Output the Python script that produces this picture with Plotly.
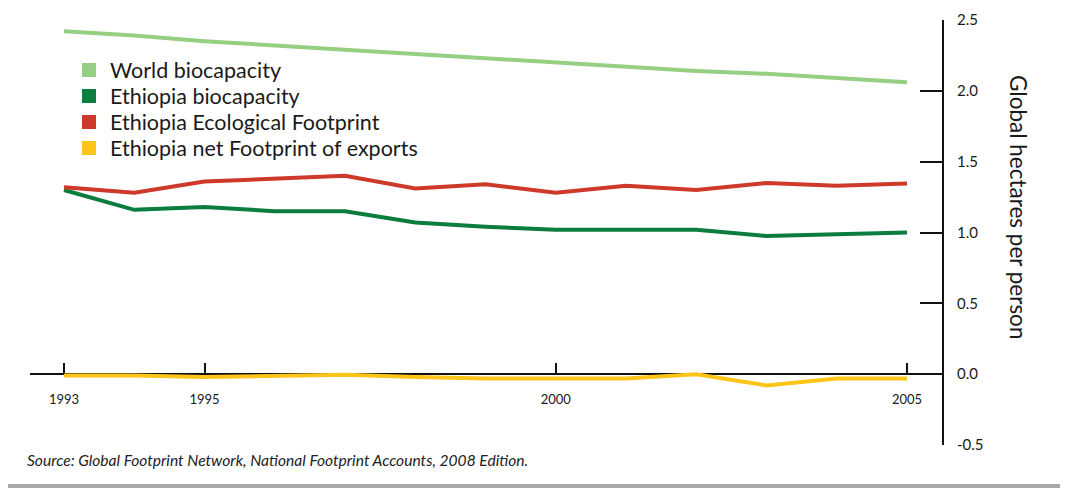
import plotly.graph_objects as go

years = list(range(1993, 2006))

world_biocapacity = [2.42, 2.39, 2.35, 2.32, 2.29, 2.26, 2.23, 2.20, 2.17, 2.14, 2.12, 2.09, 2.06]
ethiopia_biocapacity = [1.30, 1.16, 1.18, 1.15, 1.15, 1.07, 1.04, 1.02, 1.02, 1.02, 0.975, 0.99, 1.00]
ethiopia_footprint = [1.32, 1.28, 1.36, 1.38, 1.40, 1.31, 1.34, 1.28, 1.33, 1.30, 1.35, 1.33, 1.345]
ethiopia_exports = [-0.01, -0.01, -0.02, -0.01, -0.005, -0.02, -0.03, -0.03, -0.03, 0.0, -0.08, -0.03, -0.03]

x_tickvals = [1993, 1995, 2000, 2005]
y_tickvals = [-0.5, 0.0, 0.5, 1.0, 1.5, 2.0, 2.5]
y_ticktext = ["-0.5", "0.0", "0.5", "1.0", "1.5", "2.0", "2.5"]

series = [
    ("World biocapacity", world_biocapacity, "#95cf81"),
    ("Ethiopia biocapacity", ethiopia_biocapacity, "#0b7d3e"),
    ("Ethiopia Ecological Footprint", ethiopia_footprint, "#cd3a2a"),
    ("Ethiopia net Footprint of exports", ethiopia_exports, "#fdc41a"),
]

FONT = "Lato"
TEXT = "#1a1a1a"

# plot area is 912 x 425 px; helpers to place layout items in paper units
PW, PH = 912, 425
def px(sx):
    return (sx - 30) / PW
def py(sy):
    return (445 - sy) / PH

fig = go.Figure()

for name, vals, color in series:
    fig.add_trace(go.Scatter(
        x=years, y=vals, mode="lines", name=name,
        line=dict(color=color, width=4), showlegend=False,
    ))

fig.update_layout(
    # page body adds an 8px margin, so the figure is drawn 8px smaller
    width=1060, height=480,
    margin=dict(l=22, r=126, t=12, b=43),
    paper_bgcolor="white", plot_bgcolor="white",
    font=dict(family=FONT, color=TEXT),
    showlegend=False,
    xaxis=dict(
        range=[1992.516, 2005.498], anchor="free", position=1/6,
        tickvals=x_tickvals, ticks="inside", ticklen=10, tickwidth=2,
        tickcolor="#111", showline=True, linecolor="#111", linewidth=2,
        showgrid=False, zeroline=False, layer="below traces",
        tickfont=dict(size=13, family=FONT, color=TEXT),
        ticklabelstandoff=13, automargin=False,
    ),
    yaxis=dict(
        range=[-0.5, 2.5], side="right", tickvals=y_tickvals, ticktext=y_ticktext,
        ticks="inside", ticklen=22, tickwidth=2, tickcolor="#111",
        showline=True, linecolor="#111", linewidth=2,
        showgrid=False, zeroline=False, layer="below traces",
        tickfont=dict(size=15, family=FONT, color=TEXT),
        ticklabelstandoff=10, automargin=False,
    ),
)

# legend: square swatch + label per series
for i, (name, vals, color) in enumerate(series):
    cy = 70 + 26 * i
    fig.add_shape(
        type="rect", xref="paper", yref="paper",
        x0=px(82), x1=px(96), y0=py(cy + 7), y1=py(cy - 7),
        fillcolor=color, line=dict(width=0),
    )
    fig.add_annotation(
        text=name, xref="paper", yref="paper", x=px(108), y=py(cy),
        xanchor="left", yanchor="middle", showarrow=False,
        font=dict(size=21.5, family=FONT, color=TEXT),
    )

fig.add_annotation(
    text="Global hectares per person", textangle=90,
    xref="paper", yref="paper", x=px(1018), y=py(207),
    xanchor="center", yanchor="middle", showarrow=False,
    font=dict(size=22.5, family=FONT, color=TEXT),
)

fig.add_annotation(
    text="<i>Source: Global Footprint Network, National Footprint Accounts, 2008 Edition.</i>",
    xref="paper", yref="paper", x=px(25), y=py(460),
    xanchor="left", yanchor="middle", showarrow=False,
    font=dict(size=15.6, family=FONT, color="#222"),
)

# grey rule along the bottom of the figure
fig.add_shape(
    type="line", xref="paper", yref="paper",
    x0=px(0), x1=px(1068), y0=py(486), y1=py(486),
    line=dict(color="#a8a8a8", width=4),
)

fig.write_html("out.html")
